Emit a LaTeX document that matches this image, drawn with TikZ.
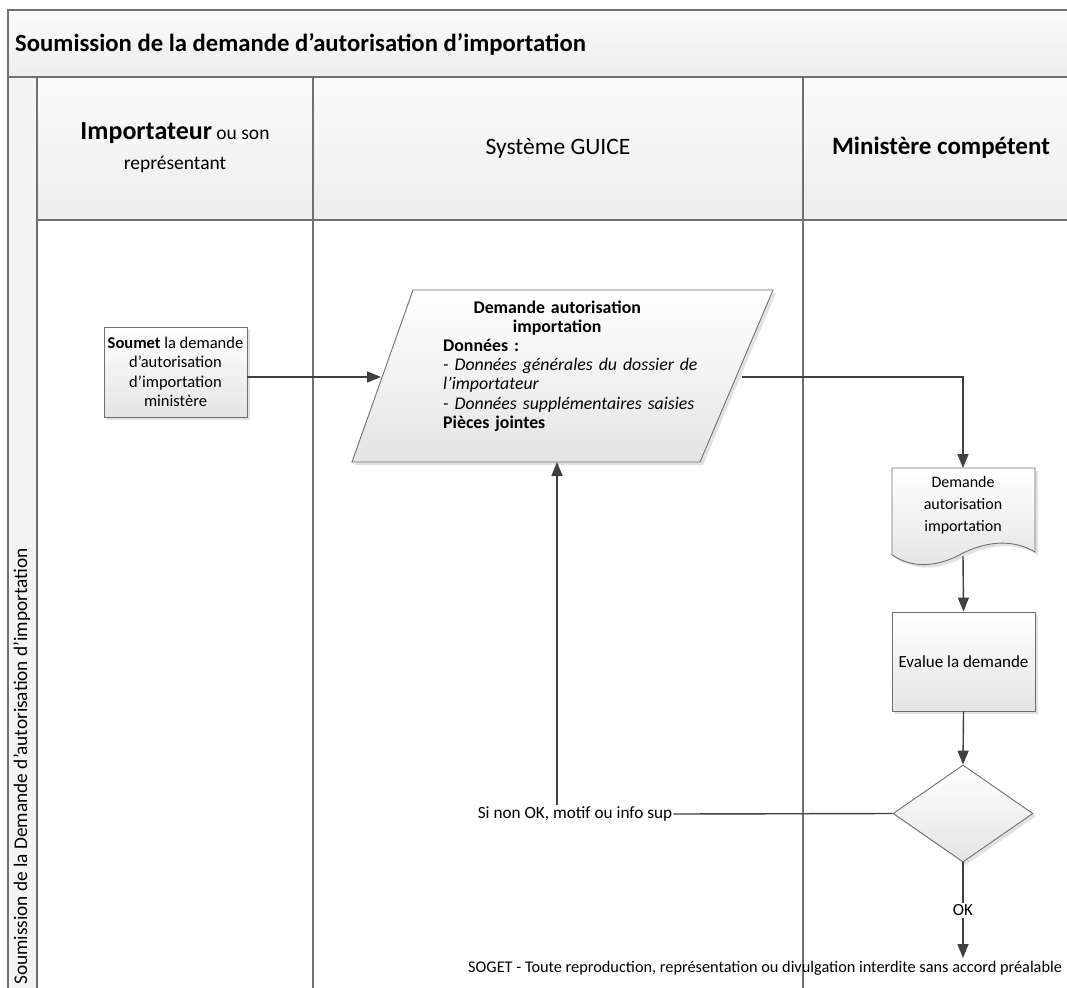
\documentclass[tikz,border=0pt]{standalone}
\usepackage{fontspec}
\setmainfont{Carlito}
\usetikzlibrary{arrows.meta,shapes.geometric,shadows}
\definecolor{lanegray}{HTML}{707070}
\definecolor{linegray}{HTML}{404040}
\definecolor{bandtop}{HTML}{FBFBFB}
\definecolor{bandbot}{HTML}{EDEDED}
\definecolor{nodebot}{HTML}{E4E4E4}
\tikzset{
  lane/.style={draw=lanegray, line width=1.3pt},
  flowline/.style={draw=linegray, line width=1.4pt},
  flow/.style={flowline, -{Triangle[length=14pt,width=11pt]}},
  shapefill/.style={top color=white, bottom color=nodebot, draw=lanegray, line width=0.9pt,
    drop shadow={shadow xshift=3pt, shadow yshift=-3pt, fill=gray!45, opacity=0.5}},
  procbox/.style={rectangle, shapefill, inner sep=2pt, align=center},
  txt/.style={font=\fontsize{16.5}{19.5}\selectfont},
}
\begin{document}
\begin{tikzpicture}[x=1pt,y=-1pt]
\clip (0,0) rectangle (1067,987);
\fill[white] (0,0) rectangle (1067,987);

% pool title band, lane strip and lane headers
\shade[top color=bandtop, bottom color=bandbot] (8,10) rectangle (1100,77);
\fill[bandbot!60!white] (8,77) rectangle (37,1000);
\shade[top color=bandtop, bottom color=bandbot] (37,77) rectangle (1100,220);
\draw[lane] (1100,10) -- (8,10) -- (8,1000);
\draw[lane] (8,77) -- (1100,77);
\draw[lane] (37,77) -- (37,1000);
\draw[lane] (313,77) -- (313,1000);
\draw[lane] (803,77) -- (803,1000);
\draw[lane] (37,220) -- (1100,220);

\node[anchor=west, inner sep=0, font=\bfseries\fontsize{24.7}{28}\selectfont] (title) at (15,44)
  {Soumission de la demande d’autorisation d’importation};
\node[rotate=90, anchor=west, inner sep=0, font=\fontsize{19.3}{22}\selectfont] (lanelabel) at (22,985)
  {Soumission de la Demande d’autorisation d’importation};

\node[align=center, font=\fontsize{19.5}{30}\selectfont] (h1) at (175,148)
  {{\bfseries\fontsize{26}{30}\selectfont Importateur} ou son\\représentant};
\node[font=\fontsize{23.5}{27}\selectfont] (h2) at (558,148) {Système GUICE};
\node[font=\bfseries\fontsize{25}{29}\selectfont] (h3) at (941,148) {Ministère compétent};

% importer task
\node[procbox, txt, minimum width=143pt, minimum height=90pt] (soumet) at (175.5,372)
  {\textbf{Soumet} la demande\\d’autorisation\\d’importation\\ministère};

% data parallelogram
\path[shapefill] (413,290) -- (773,290) -- (700,462) -- (352,462) -- cycle;
\coordinate (pin) at (381,377);
\coordinate (pout) at (742,377);
\coordinate (pbot) at (557,462);
\node[anchor=west, inner sep=0, text width=300pt, align=left, font=\fontsize{17.8}{19.2}\selectfont] (pdata) at (443,366)
  {\makebox[228pt][c]{\bfseries Demande autorisation}\\
   \makebox[228pt][c]{\bfseries importation}\\
   \textbf{Données :}\\
   \textit{- Données générales du dossier de}\\
   \textit{l’importateur}\\
   \textit{- Données supplémentaires saisies}\\
   \textbf{Pièces jointes}};

% document
\path[shapefill] (892,468) -- (1035,468) -- (1035,552)
  .. controls (1015,540) and (990,540) .. (963,553)
  .. controls (940,566) and (915,570) .. (892,555) -- cycle;
\coordinate (doctop) at (963,468);
\coordinate (docbot) at (963,556);
\node[align=center, font=\fontsize{16}{22}\selectfont] (doctext) at (963,505)
  {Demande\\autorisation\\importation};

% evaluation and decision
\node[procbox, font=\fontsize{17}{20}\selectfont, minimum width=143pt, minimum height=99pt] (eval) at (963.5,661.5) {Evalue la demande};
\node[diamond, shapefill, inner sep=0, minimum width=140pt, minimum height=97pt] (dec) at (963,813.5) {};

\node[font=\fontsize{17.2}{20}\selectfont, inner sep=1pt] (nonok) at (575,814) {Si non OK, motif ou info sup};
\coordinate (okend) at (963,958);

% connectors
\draw[flow] (soumet.east |- pin) -- (pin);
\draw[flow] (pout) -| (doctop);
\draw[flow] (docbot) -- (eval.north);
\draw[flow] (eval.south) -- (dec.north);
\draw[flowline] (dec.west) -- (nonok.east);
\draw[flow] (nonok.north -| pbot) -- (pbot);
\draw[flow] (dec.south) -- node[fill=white, font=\fontsize{17}{20}\selectfont, inner sep=2pt] (oklabel) {OK} (okend);

\node[anchor=west, inner sep=0, font=\fontsize{16.3}{19}\selectfont] (footer) at (468,968)
  {SOGET - Toute reproduction, représentation ou divulgation interdite sans accord préalable};
\end{tikzpicture}
\end{document}
